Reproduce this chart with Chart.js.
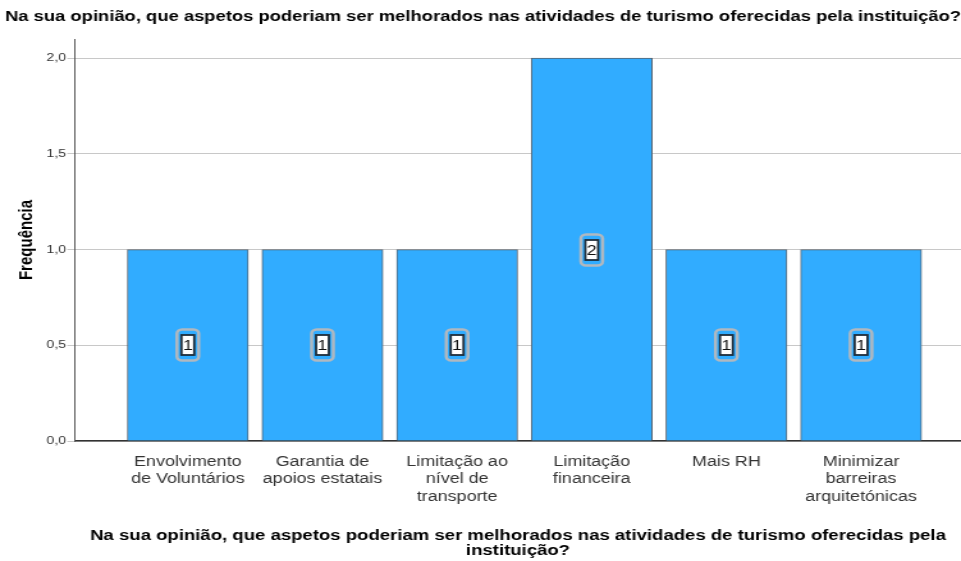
<!DOCTYPE html>
<html>
<head>
<meta charset="utf-8">
<script src="https://cdn.jsdelivr.net/npm/chart.js@4"></script>
<style>
    html, body { margin: 0; padding: 0; background: #ffffff; overflow: hidden; }
    /* chart is laid out narrower and stretched sideways to the 961px frame */
    #wrap { width: 751px; height: 561px; transform: scaleX(1.2796); transform-origin: 0 0; }
</style>
</head>
<body>
<div id="wrap"><canvas id="freqChart"></canvas></div>
<script>
// Frequency bar chart for the tourism improvement question

const questionText = 'Na sua opinião, que aspetos poderiam ser melhorados nas atividades de turismo oferecidas pela instituição?';
const categoryLabels = [
    ['Envolvimento', 'de Voluntários'],
    ['Garantia de', 'apoios estatais'],
    ['Limitação ao', 'nível de', 'transporte'],
    ['Limitação', 'financeira'],
    ['Mais RH'],
    ['Minimizar', 'barreiras', 'arquitetónicas']
];
const frequencies = [1, 1, 1, 2, 1, 1];
const yTicks = [0, 0.5, 1, 1.5, 2];

const FONT = '"Liberation Sans", Arial, sans-serif';

// Boxed count label in the middle of each bar
const countLabels = {
    id: 'countLabels',
    afterDatasetsDraw(chart) {
        const ctx = chart.ctx;
        const yScale = chart.scales.y;
        const meta = chart.getDatasetMeta(0);
        ctx.save();
        meta.data.forEach((bar, i) => {
            const value = frequencies[i];
            const cx = bar.x;
            const cy = Math.round(yScale.getPixelForValue(value / 2));

            ctx.beginPath();
            ctx.roundRect(cx - 8.5, cy - 15.5, 17, 31, 4);
            ctx.lineWidth = 2.5;
            ctx.strokeStyle = '#b0b8c0';
            ctx.stroke();

            ctx.fillStyle = '#ffffff';
            ctx.fillRect(cx - 5, cy - 10, 10, 20);
            ctx.lineWidth = 1.8;
            ctx.strokeStyle = '#1f2d3a';
            ctx.strokeRect(cx - 5, cy - 10, 10, 20);

            ctx.fillStyle = '#111111';
            ctx.font = '14px ' + FONT;
            ctx.textAlign = 'center';
            ctx.textBaseline = 'middle';
            ctx.fillText(String(value), cx, cy + 1);
        });
        ctx.restore();
    }
};

new Chart(document.getElementById('freqChart'), {
    type: 'bar',
    data: {
        datasets: [{
            data: frequencies.map((v, i) => ({ x: i, y: v })),
            backgroundColor: '#31acff',
            borderColor: '#59636e',
            borderWidth: 1,
            barThickness: 94.5
        }]
    },
    options: {
        responsive: true,
        maintainAspectRatio: false,
        animation: false,
        layout: { padding: { left: 4, top: 0, right: 0, bottom: 0 } },
        plugins: {
            legend: { display: false },
            tooltip: { enabled: false },
            title: {
                display: true,
                text: questionText,
                align: 'start',
                color: '#000000',
                font: { family: FONT, size: 14.8, weight: 'bold' },
                padding: { top: 8.3, bottom: 13 }
            }
        },
        scales: {
            x: {
                type: 'linear',
                offset: false,
                bounds: 'data',
                min: -0.838,
                max: 5.742,
                afterBuildTicks(scale) {
                    scale.ticks = categoryLabels.map((_, i) => ({ value: i }));
                },
                afterFit(scale) {
                    scale.height = 120;
                },
                grid: { display: false },
                border: { display: true, color: '#333333', width: 1.5 },
                ticks: {
                    autoSkip: false,
                    maxRotation: 0,
                    padding: 4,
                    color: '#333333',
                    font: { family: FONT, size: 14, lineHeight: 1.25 },
                    callback: (value) => categoryLabels[value] || ''
                },
                title: {
                    display: true,
                    text: ['Na sua opinião, que aspetos poderiam ser melhorados nas atividades de turismo oferecidas pela', 'instituição?'],
                    color: '#000000',
                    font: { family: FONT, size: 14.5, weight: 'bold', lineHeight: 1.03 },
                    padding: { top: 0, bottom: 2.5 }
                }
            },
            y: {
                min: 0,
                max: 2.1,
                afterBuildTicks(scale) {
                    scale.ticks = yTicks.map(v => ({ value: v }));
                },
                afterFit(scale) {
                    scale.width = 54.6;
                },
                grid: { color: '#c8c8c8', lineWidth: 1, tickLength: 6, tickColor: '#c8c8c8' },
                border: { display: true, color: '#555555', width: 1 },
                ticks: {
                    padding: 1,
                    color: '#333333',
                    font: { family: FONT, size: 11 },
                    callback: (value) => value.toFixed(1).replace('.', ',')
                },
                title: {
                    display: true,
                    text: 'Frequência',
                    color: '#000000',
                    font: { family: FONT, size: 15, weight: 'bold' },
                    padding: { top: 7.5, bottom: 4 }
                }
            }
        }
    },
    plugins: [countLabels]
});
</script>
</body>
</html>
